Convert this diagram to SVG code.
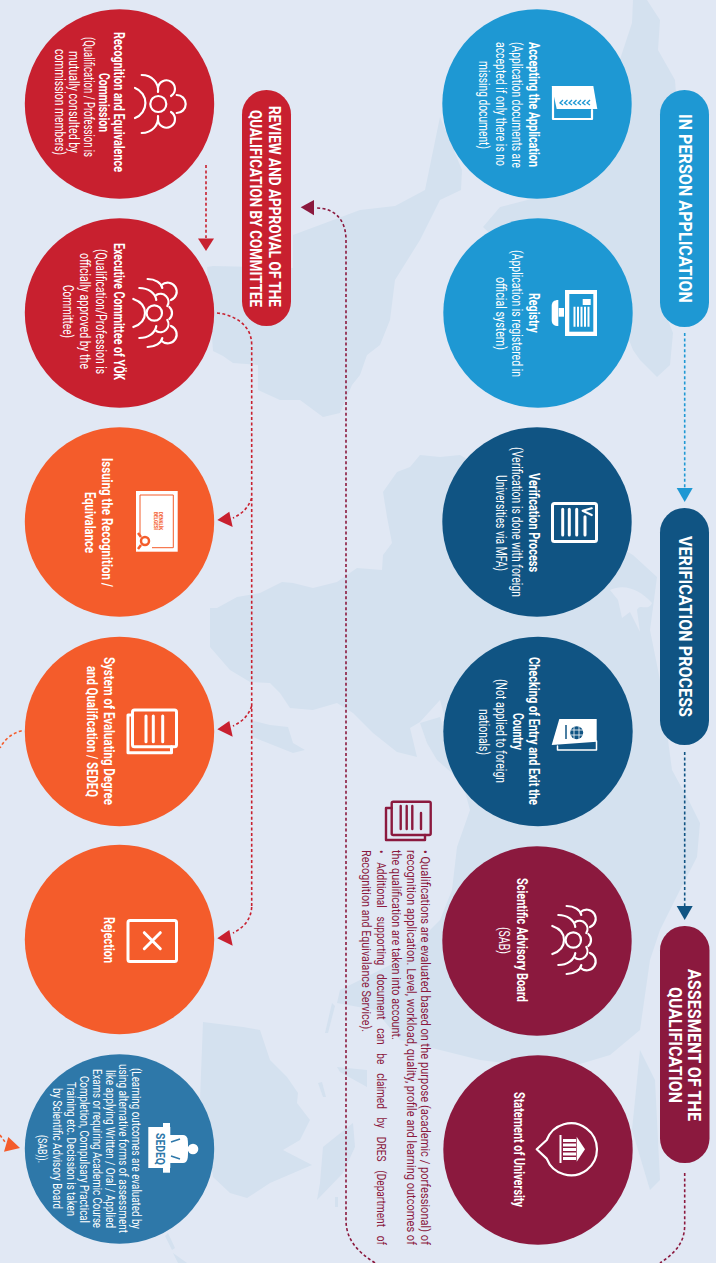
<svg xmlns="http://www.w3.org/2000/svg" xmlns:xlink="http://www.w3.org/1999/xlink" width="716" height="1263" viewBox="0 0 716 1263">
<style>
text{font-family:"Roboto","Liberation Sans",sans-serif;fill:#fff}
.b{font-size:14px;font-weight:700}
.r{font-size:14px;font-weight:400}
.h{font-size:19px;font-weight:700}
.s{font-size:13px;font-weight:400}
.p{font-size:13px;font-weight:400;fill:#8b193e}
.m{fill:#d4e1ef}
.l{fill:#e1e8f4}
.c{fill:none;stroke-width:1.6;stroke-dasharray:3 2.4}
.ic{fill:none;stroke:#fff;stroke-width:2.2;stroke-linecap:round;stroke-linejoin:round}
.th{stroke-width:3}
.wf{fill:#fff}
.bl{fill:#1e98d3}
.db{fill:#105483}
.mr{fill:#8b193e}
.rd{fill:#c8202f}
.or{fill:#f45c2b}
.sq{fill:#2e78a9}
</style>
<defs>
<g id="people3" class="ic">
<circle cx="0" cy="0" r="7.700"/>
<path d="M-21-14Q-9.300-10-9.300 0Q-9.300 10-21 14"/>
<path d="M-15-25C-6-25 1-20 2-13M-15 25C-6 25 1 20 2 13"/>
<path d="M-6.700-34C1-34 7-30 8-25M-6.700 34C1 34 7 30 8 25"/>
<path d="M7.300-28A9 9 0 1 1 16.700-13M7.300 28A9 9 0 1 0 16.700 13"/>
<path d="M2-18A8 8 0 0 1 13-7M2 18A8 8 0 0 0 13 7"/>
<path d="M15-6A8 8 0 0 1 15 6"/>
</g>
</defs>
<rect width="716" height="1263" class="l"/>
<g id="map">
<path class="m" d="M207 267L213 266L293 268L293 235L360 210L395 206L425 190L440 117L462 170L461 190L440 200L420 240L395 280L390 320L380 345L367 355L360 375L352 385L340 413L323 417L300 400L280 400L258 390L258 365L233 363L223 356L213 351Z"/>
<path class="m" d="M633 0L647 0L660 20L658 50L675 80L680 150L665 230L660 300L673 333L670 365L657 377L640 360L633 350L625 330L560 300L483 227L500 207L535 198L600 120L632 23Z"/>
<path class="m" d="M440 457L460 455L633 555L657 577L650 630L660 680L672 770L690 803L700 823L697 857L680 890L660 930L650 960L640 1030L610 1055L560 1070L480 1060L440 1050L400 1040L375 1010L337 1003L340 990L400 960L440 920L452 890L457 847L470 810L440 700L420 722L410 728L417 757L397 752L373 733L353 713L337 703L313 710L290 708L280 693L270 683L250 682L230 670L210 647L210 608L217 608L237 597L260 593L282 582L293 583L313 588L337 582L357 568L382 570L383 555L392 543L387 517L383 492L397 472L410 467L420 455Z"/>
<path class="l" d="M610 590C625 583 640 590 652 603C648 612 640 603 637 610L640 632L630 612L622 618L618 600Z"/>
<path class="m" d="M250 720L270 725L288 727L293 743L305 750L293 753L253 737Z"/>
<path class="m" d="M420 723L440 717L460 780L437 760L427 743Z"/>
<path class="m" d="M203 1022L243 1027L260 1030L270 1060L287 1077L298 1093L297 1103L310 1120L300 1140L283 1150L312 1165L270 1183L247 1198L230 1193L213 1177L200 1100Z"/>
<path class="m" d="M323 1147L353 1123L355 1147L343 1173L317 1200L320 1183Z"/>
<path class="m" d="M332 1003L335 1006L328 1033L325 1033ZM318 1083L322 1082L326 1097L323 1097ZM337 1067L367 1070L367 1087L340 1072ZM335 1197L338 1197L338 1207L335 1207Z"/>
<path class="m" d="M168 1233L175 1248L172 1250L165 1236ZM173 1253L187 1263L178 1263Z"/>
<path class="m" d="M640 1050L655 1080L660 1180L650 1190L632 1130Z"/>
</g>
<g id="connectors">
<path class="c" stroke="#1e98d3" d="M684.700 333V488"/>
<polygon class="bl" points="676.700,488 692.700,488 684.700,502"/>
<path class="c" stroke="#105483" d="M684.700 752V906"/>
<polygon class="db" points="676.700,906 692.700,906 684.700,920"/>
<path class="c" stroke="#8b193e" d="M684.700 1173V1225C684.700 1245 672 1255 660 1263"/>
<path class="c" stroke="#8b193e" d="M375 1263C358 1252 346 1240 346 1220V240C346 220 335 208 316 208"/>
<polygon class="mr" points="300.700,207.300 314,200 314,215.300"/>
<path class="c" stroke="#c8202f" d="M206 165V238"/>
<polygon class="rd" points="198,238.500 214,238.500 206,251"/>
<path class="c" stroke="#c8202f" d="M217 313C235 315 251.700 325 251.700 345V907"/>
<path class="c" stroke="#c8202f" d="M251.700 498C248 508 243 513 233 518M251.700 706C248 716 243 721 233 726M251.700 907C251 920 243 928 233 933"/>
<polygon class="rd" points="217.300,520 229.300,511.700 232.700,527"/>
<polygon class="rd" points="217.300,729.300 229.300,721 232.700,736.700"/>
<polygon class="rd" points="217.300,938.300 229.300,930 232.700,945.700"/>
<path class="c" stroke="#f45c2b" d="M21.700 730.700C12 733 4 740 0 748M0 1135L5 1142"/>
<polygon class="or" points="20,1148 8.300,1137 4,1151.700"/>
</g>
<g id="pill-in-person">
<rect class="bl" x="660" y="90" width="49" height="237" rx="24.500"/>
<text class="h" transform="translate(679 114) rotate(90)" textLength="189" lengthAdjust="spacingAndGlyphs">IN PERSON APPLICATION</text>
</g>
<g id="pill-verification">
<rect class="db" x="660" y="508" width="49" height="237" rx="24.500"/>
<text class="h" transform="translate(679 536) rotate(90)" textLength="181" lengthAdjust="spacingAndGlyphs">VERIFICATION PROCESS</text>
</g>
<g id="pill-assesment">
<rect class="mr" x="660" y="926" width="49.500" height="237" rx="24.500"/>
<text class="h" transform="translate(687.500 969) rotate(90)" textLength="152" lengthAdjust="spacingAndGlyphs">ASSESMENT OF THE</text>
<text class="h" transform="translate(669 987) rotate(90)" textLength="116" lengthAdjust="spacingAndGlyphs">QUALIFICATION</text>
</g>
<g id="pill-review">
<rect class="rd" x="242" y="90" width="49" height="236" rx="24.500"/>
<text class="h" style="font-size:17px" transform="translate(269 106) rotate(90)" textLength="201" lengthAdjust="spacingAndGlyphs">REVIEW AND APPROVAL OF THE</text>
<text class="h" style="font-size:17px" transform="translate(250 110) rotate(90)" textLength="197" lengthAdjust="spacingAndGlyphs">QUALIFICATION BY COMMITTEE</text>
</g>
<g id="node-accepting">
<circle class="bl" cx="537" cy="104" r="94.700"/>
<polygon class="wf" points="551.700,86 593.300,86 597.300,109 556.700,109"/>
<path class="ic" d="M553 87V119H592V110"/>
<path fill="none" stroke="#1e98d3" stroke-width="1.300" d="M563 100L560 103L563 105M567.500 100L564.500 103L567.500 105M572 100L569 103L572 105M576.500 100L573.500 103L576.500 105M581 100L578 103L581 105M585.500 100L582.500 103L585.500 105M590 100L587 103L590 105"/>
<text class="b" transform="translate(529 42) rotate(90)" textLength="125" lengthAdjust="spacingAndGlyphs">Accepting the Application</text>
<text class="r" transform="translate(512 42) rotate(90)" textLength="126" lengthAdjust="spacingAndGlyphs">(Application documents are</text>
<text class="r" transform="translate(496 42) rotate(90)" textLength="124" lengthAdjust="spacingAndGlyphs">accepted if only there is no</text>
<text class="r" transform="translate(479 61) rotate(90)" textLength="88" lengthAdjust="spacingAndGlyphs">missing document)</text>
</g>
<g id="node-registry">
<circle class="bl" cx="538" cy="313" r="94.700"/>
<rect class="wf" x="565" y="290" width="32" height="46"/>
<rect class="bl" x="569.300" y="294" width="24" height="37.700"/>
<path fill="none" stroke="#fff" stroke-width="2" d="M574.500 306.700V326.700M578 306.700V326.700M581.500 306.700V326.700M585 306.700V326.700M588.500 306.700V326.700"/>
<rect class="wf" x="582.700" y="299" width="8" height="6"/>
<rect class="wf" x="558.700" y="308" width="5.300" height="8.700"/>
<path class="wf" d="M558.300 300V326C554 326 551.700 324 551.700 320V306C551.700 302 554 300 558.300 300Z"/>
<text class="b" transform="translate(529 293) rotate(90)" textLength="40" lengthAdjust="spacingAndGlyphs">Registry</text>
<text class="r" transform="translate(512 250) rotate(90)" textLength="127" lengthAdjust="spacingAndGlyphs">(Application is registered in</text>
<text class="r" transform="translate(496 277) rotate(90)" textLength="73" lengthAdjust="spacingAndGlyphs">official system)</text>
</g>
<g id="node-verification">
<circle class="db" cx="537" cy="522" r="94.700"/>
<rect class="ic th" x="552.500" y="503.500" width="44" height="38" rx="2"/>
<path class="ic th" d="M562.700 509.300V535M569.300 509.300V535M576.700 509.300V535M585 516.700V535"/>
<path class="ic" d="M591.700 508.300L582.700 510.700L591.700 515"/>
<text class="b" transform="translate(529 473) rotate(90)" textLength="99" lengthAdjust="spacingAndGlyphs">Verification Process</text>
<text class="r" transform="translate(512 447) rotate(90)" textLength="150" lengthAdjust="spacingAndGlyphs">(Verification is done with foreign</text>
<text class="r" transform="translate(496 475) rotate(90)" textLength="96" lengthAdjust="spacingAndGlyphs">Universities via MFA)</text>
</g>
<g id="node-checking">
<circle class="db" cx="538" cy="731.500" r="94.700"/>
<polygon class="wf" points="559.300,719 596.700,719 596.700,741.700 551.700,745"/>
<path class="ic" style="stroke-width:1.500" d="M557.500 746V750H596.500V741"/>
<circle cx="576.700" cy="732.700" r="6.500" fill="#105483"/>
<path fill="none" stroke="#fff" stroke-width=".8" d="M570.500 730H583M570.500 735H583M574 726.500V739M579 726.500V739"/>
<path fill="none" stroke="#105483" stroke-width="1.500" d="M566 725V739"/>
<text class="b" transform="translate(529 657) rotate(90)" textLength="148" lengthAdjust="spacingAndGlyphs">Checking of Entry and Exit the</text>
<text class="b" transform="translate(513 713) rotate(90)" textLength="37" lengthAdjust="spacingAndGlyphs">Country</text>
<text class="r" transform="translate(496 679) rotate(90)" textLength="104" lengthAdjust="spacingAndGlyphs">(Not applied to foreign</text>
<text class="r" transform="translate(479 709) rotate(90)" textLength="46" lengthAdjust="spacingAndGlyphs">nationals)</text>
</g>
<g id="node-sab">
<circle class="mr" cx="537" cy="941" r="94.700"/>
<use xlink:href="#people3" href="#people3" x="573.300" y="940"/>
<text class="b" transform="translate(517 878) rotate(90)" textLength="124" lengthAdjust="spacingAndGlyphs">Scientific Advisory Board</text>
<text class="r" transform="translate(499 927) rotate(90)" textLength="27" lengthAdjust="spacingAndGlyphs">(SAB)</text>
</g>
<g id="node-statement">
<circle class="mr" cx="538" cy="1150" r="94.700"/>
<path class="ic" d="M546.700 1140A26 26 0 1 1 546.700 1158.600L536.700 1149.300Z"/>
<polygon class="wf" points="576.700,1136.700 585,1149.300 576.700,1161.700"/>
<rect class="wf" x="559.500" y="1135" width="2" height="28"/>
<path fill="none" stroke="#fff" stroke-width="3" d="M563 1140.500H576M563 1145H576M563 1149.500H576M563 1154H576M563 1158.500H576"/>
<text class="b" transform="translate(514 1092) rotate(90)" textLength="115" lengthAdjust="spacingAndGlyphs">Statement of University</text>
</g>
<g id="node-recognition">
<circle class="rd" cx="119.500" cy="104" r="94.700"/>
<g class="ic">
<circle cx="158.300" cy="104" r="8"/>
<path d="M135 88A16 16 0 0 1 135 118M141.700 75C152 75 159 83 158 92M141.700 133C152 133 159 125 158 116"/>
<path d="M158 88A8.500 8.500 0 1 1 171 96M158 120A8.500 8.500 0 1 0 171 112M176.700 95A9 9 0 0 1 176.700 113"/>
</g>
<text class="b" transform="translate(113.500 32) rotate(90)" textLength="140" lengthAdjust="spacingAndGlyphs">Recognition and Equivalence</text>
<text class="b" transform="translate(98.500 73) rotate(90)" textLength="59" lengthAdjust="spacingAndGlyphs">Commission</text>
<text class="r" transform="translate(83.500 37) rotate(90)" textLength="120" lengthAdjust="spacingAndGlyphs">(Qualification / Profession is</text>
<text class="r" transform="translate(69 51) rotate(90)" textLength="102" lengthAdjust="spacingAndGlyphs">mutually consulted by</text>
<text class="r" transform="translate(54.500 49) rotate(90)" textLength="106" lengthAdjust="spacingAndGlyphs">commission members)</text>
</g>
<g id="node-executive">
<circle class="rd" cx="119.500" cy="313" r="94.700"/>
<use xlink:href="#people3" href="#people3" x="154.300" y="313"/>
<text class="b" transform="translate(113.500 243) rotate(90)" textLength="137" lengthAdjust="spacingAndGlyphs">Executive Committee of YÖK</text>
<text class="r" transform="translate(96 249) rotate(90)" textLength="125" lengthAdjust="spacingAndGlyphs">(Qualification/Profession is</text>
<text class="r" transform="translate(80 253) rotate(90)" textLength="116" lengthAdjust="spacingAndGlyphs">officially approved by the</text>
<text class="r" transform="translate(63 285) rotate(90)" textLength="53" lengthAdjust="spacingAndGlyphs">Committee)</text>
</g>
<g id="node-issuing">
<circle class="or" cx="119.500" cy="522" r="94.700"/>
<rect class="wf" x="136" y="491" width="41.700" height="60.700"/>
<path fill="none" stroke="#f45c2b" stroke-width="1" d="M140 535V495H173.300V547.700H152"/>
<circle cx="145" cy="541" r="4" fill="#fff" stroke="#f45c2b" stroke-width="2.500"/>
<path fill="none" stroke="#f45c2b" stroke-width="2.500" d="M141 537L138 533M141 545L138 549"/>
<text transform="translate(158.500 512) rotate(90)" style="font-size:5px;font-weight:700;fill:#f45c2b" textLength="18" lengthAdjust="spacingAndGlyphs">DENKLİK</text>
<text transform="translate(153.500 512) rotate(90)" style="font-size:5px;font-weight:700;fill:#f45c2b" textLength="18" lengthAdjust="spacingAndGlyphs">BELGESİ</text>
<text class="b" transform="translate(102 458) rotate(90)" textLength="129" lengthAdjust="spacingAndGlyphs">Issuing the Recognition /</text>
<text class="b" transform="translate(85 492) rotate(90)" textLength="61" lengthAdjust="spacingAndGlyphs">Equivalance</text>
</g>
<g id="node-system">
<circle class="or" cx="119.500" cy="731.500" r="94.700"/>
<rect class="ic th" x="132.500" y="710" width="44" height="36.700" rx="2"/>
<path class="ic th" d="M132.500 715H128V752.700H171.500V746.700"/>
<path class="ic th" d="M146 716V741.700M153.300 716V741.700M162.700 716V741.700"/>
<text class="b" transform="translate(104 657) rotate(90)" textLength="148" lengthAdjust="spacingAndGlyphs">System of Evaluating Degree</text>
<text class="b" transform="translate(87 666) rotate(90)" textLength="131" lengthAdjust="spacingAndGlyphs">and Qualification / SEDEQ</text>
</g>
<g id="node-rejection">
<circle class="or" cx="119.500" cy="939.500" r="94.700"/>
<rect class="ic th" x="128" y="920.500" width="48.500" height="41" rx="2"/>
<path class="ic th" d="M144.300 932.700L160.300 948.700M160.300 932.700L144.300 948.700"/>
<text class="b" transform="translate(104 917) rotate(90)" textLength="46" lengthAdjust="spacingAndGlyphs">Rejection</text>
</g>
<g id="node-sedeq">
<circle class="sq" cx="119.500" cy="1149" r="94.700"/>
<rect class="wf" x="148.300" y="1127" width="22" height="41"/>
<rect class="wf" x="163" y="1123" width="7" height="49.700"/>
<circle class="wf" cx="193" cy="1149" r="5.300"/>
<path class="wf" d="M170 1135V1163H183C188 1163 188 1157 188 1152V1146C188 1140 188 1135 183 1135Z"/>
<path fill="none" stroke="#2e78a9" stroke-width="1.500" d="M171 1142L180 1139M171 1156L180 1159"/>
<text transform="translate(156 1133) rotate(90)" style="font-size:13px;font-weight:700;fill:#2e78a9" textLength="32" lengthAdjust="spacingAndGlyphs">SEDEQ</text>
<text class="s" transform="translate(131.500 1068) rotate(90) scale(.75 1)" textLength="214.700" lengthAdjust="spacingAndGlyphs">(Learning outcomes are evaluated by</text>
<text class="s" transform="translate(118.500 1064) rotate(90) scale(.75 1)" textLength="225.300" lengthAdjust="spacingAndGlyphs">using alternative forms of assessment</text>
<text class="s" transform="translate(105.500 1070) rotate(90) scale(.75 1)" textLength="210.700" lengthAdjust="spacingAndGlyphs">like applying Written / Oral / Applied</text>
<text class="s" transform="translate(92.500 1069) rotate(90) scale(.75 1)" textLength="212" lengthAdjust="spacingAndGlyphs">Exams or requiring Academic Course</text>
<text class="s" transform="translate(79.500 1076) rotate(90) scale(.75 1)" textLength="196" lengthAdjust="spacingAndGlyphs">Completion, Compulsary Practical</text>
<text class="s" transform="translate(66.500 1082) rotate(90) scale(.75 1)" textLength="178.700" lengthAdjust="spacingAndGlyphs">Training etc. Decission is taken</text>
<text class="s" transform="translate(52.500 1088) rotate(90) scale(.75 1)" textLength="161.300" lengthAdjust="spacingAndGlyphs">by Scientific Advisory Board</text>
<text class="s" transform="translate(37.500 1135) rotate(90) scale(.75 1)" textLength="37.300" lengthAdjust="spacingAndGlyphs">(SAB)).</text>
</g>
<g id="note">
<g fill="none" stroke="#8b193e" stroke-width="2.400" stroke-linejoin="round" stroke-linecap="round">
<rect x="391.700" y="801.700" width="39" height="33.300" rx="1.500"/>
<path d="M391.700 808H386V840H425V835M400.700 806V829M406.700 806V829M412.300 806V829M421 813V829"/>
</g>
<text class="p" transform="translate(421 850) rotate(90) scale(.75 1)" textLength="526.700" lengthAdjust="spacingAndGlyphs">• Qualifications are evaluated based on the purpose (academic / porfessional) of</text>
<text class="p" transform="translate(407 850) rotate(90) scale(.75 1)" textLength="526.700" lengthAdjust="spacingAndGlyphs">recognition application. Level, workload, quality, profile and learning outcomes of</text>
<text class="p" transform="translate(392 850) rotate(90) scale(.75 1)" textLength="253.300" lengthAdjust="spacingAndGlyphs">the qualification are taken into account.</text>
<text class="p" style="word-spacing:8px" transform="translate(377 850) rotate(90) scale(.75 1)" textLength="526.700" lengthAdjust="spacingAndGlyphs">• Additional supporting document can be claimed by DRES (Department of</text>
<text class="p" transform="translate(362 850) rotate(90) scale(.75 1)" textLength="242.700" lengthAdjust="spacingAndGlyphs">Recognition and Equivalance Service).</text>
</g>
</svg>
